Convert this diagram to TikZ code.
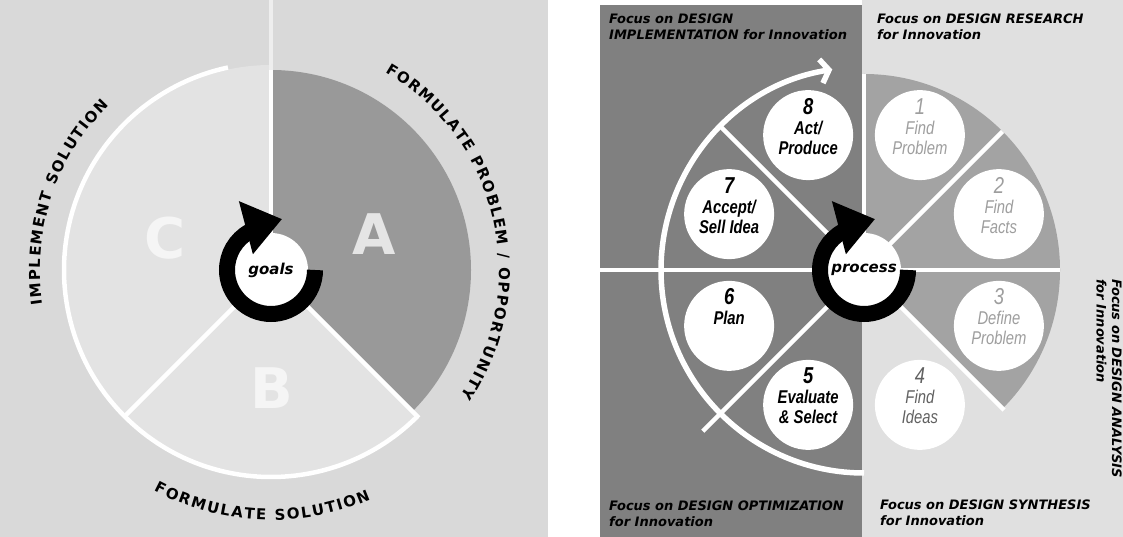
\documentclass[tikz,border=0pt]{standalone}
\usepackage{fontspec}
\setmainfont{DejaVu Sans}
\newfontfamily\circfont[FakeStretch=0.8]{Liberation Sans}
\usetikzlibrary{arrows.meta,decorations.text,calc}
\definecolor{bgleft}{gray}{0.85}
\definecolor{bginner}{gray}{0.89}
\definecolor{secA}{gray}{0.60}
\definecolor{paneldark}{gray}{0.50}
\definecolor{bgright}{gray}{0.88}
\definecolor{secR}{gray}{0.64}
\newcommand\curvefont{\fontsize{15}{15}\selectfont\bfseries}
\tikzset{
  divider/.style={white, line width=4.5pt},
  whitearc/.style={white, line width=5.5pt, -{Straight Barb[length=8pt,width=24pt]}},
  blackring/.style={black, line width=16pt},
  stepcirc/.style={circle, fill=white, minimum size=90pt, inner sep=0pt},
  numdark/.style={anchor=base, inner sep=0pt, font=\circfont\fontsize{23}{23}\selectfont\bfseries\itshape},
  labdark/.style={anchor=base, inner sep=0pt, font=\circfont\fontsize{18.5}{18.5}\selectfont\bfseries\itshape},
  numlight/.style={anchor=base, inner sep=0pt, text=black!38, font=\circfont\fontsize{23}{23}\selectfont\itshape},
  lablight/.style={anchor=base, inner sep=0pt, text=black!38, font=\circfont\fontsize{18.5}{18.5}\selectfont\itshape},
  centertxt/.style={inner sep=0pt, font=\fontsize{15}{15}\selectfont\bfseries\itshape},
  bigletter/.style={inner sep=0pt, font=\fontsize{56}{56}\selectfont\bfseries},
  focustxt/.style={inner sep=0pt, align=left, font=\fontsize{13}{15.5}\selectfont\bfseries\itshape},
  curvedtext/.style={decorate, decoration={text along path, text align={fit to path}}}
}
\begin{document}
\begin{tikzpicture}[x=1pt,y=1pt]
\useasboundingbox (0,0) rectangle (1123,537);
\fill[white] (0,0) rectangle (1123,537);
\coordinate (L) at (271,267);
\coordinate (R) at (864,267);
\coordinate (Lrim) at (271,467);
\coordinate (Ltop) at (271,537);
\coordinate (Pleft) at (600,267);

% ---------------- left panel ----------------
\fill[bgleft] (0,0) rectangle (548,537);
\fill[bginner] (L) -- ++(-45:205) arc[start angle=-45, end angle=-270, radius=205] -- cycle;
\fill[secA] (L) -- ++(90:200) arc[start angle=90, end angle=-45, radius=200] -- cycle;
\draw[divider] (L) -- (Lrim);
\draw[white!55!bgleft, line width=4.5pt] (Lrim) -- (Ltop);
\draw[divider] (L) -- ++(-45:209);
\draw[divider] (L) -- ++(-135:206);
\draw[white, line width=4.5pt] (L) ++(-45:207) arc[start angle=-45, end angle=-258, radius=207];

\node[bigletter, text=black!10] (lA) at (374,303) {A};
\node[bigletter, text=black!4] (lB) at (272,149) {B};
\node[bigletter, text=black!4] (lC) at (165,299) {C};

\fill[white] (L) circle[radius=37];
\draw[blackring] (L) ++(0:44) arc[start angle=0, end angle=-241, radius=44];
\fill[black, shift={(L)}] (115:76) -- (78:52) -- (139:24) -- cycle;
\node[centertxt] (goals) at (L) {goals};

\path[curvedtext, decoration={text={|\curvefont|FORMULATE PROBLEM / OPPORTUNITY}}]
  (L) ++(60:228) arc[start angle=60, end angle=-33.5, radius=228];
\path[curvedtext, decoration={text={|\curvefont|IMPLEMENT SOLUTION}}]
  (L) ++(188.5:231) arc[start angle=188.5, end angle=134.5, radius=231];
\path[curvedtext, decoration={text={|\curvefont|FORMULATE SOLUTION}}]
  (L) ++(-118:250) arc[start angle=-118, end angle=-66.5, radius=250];

% ---------------- right panel ----------------
\fill[paneldark] (600,0) rectangle (862,532);
\fill[bgright] (862,0) rectangle (1123,537);
\fill[secR] (R) -- ++(90:196) arc[start angle=90, end angle=-45, radius=196] -- cycle;
\draw[divider] (R) -- ++(90:196);
\draw[divider] (R) -- ++(45:196);
\draw[divider] (R) -- ++(-45:198);
\draw[divider] (Pleft) -- ($(R)+(196,0)$);
\draw[divider] (R) -- ++(135:203);
\draw[divider] (R) -- ++(-135:228);
\draw[whitearc] (R) ++(-90:203) arc[start angle=-90, end angle=-261, radius=203];

\node[stepcirc] (c1) at ($(R)+(67.5:146)$) {};
\node[stepcirc] (c2) at ($(R)+(22.5:146)$) {};
\node[stepcirc] (c3) at ($(R)+(-22.5:146)$) {};
\node[stepcirc] (c4) at ($(R)+(-67.5:146)$) {};
\node[stepcirc] (c5) at ($(R)+(-112.5:146)$) {};
\node[stepcirc] (c6) at ($(R)+(-157.5:146)$) {};
\node[stepcirc] (c7) at ($(R)+(157.5:146)$) {};
\node[stepcirc] (c8) at ($(R)+(112.5:146)$) {};

\node[numlight] (n1) at ($(c1)+(0,21)$) {1};
\node[lablight] (a1) at ($(c1)+(0,1)$) {Find};
\node[lablight] (b1) at ($(c1)+(0,-19)$) {Problem};
\node[numlight] (n2) at ($(c2)+(0,21)$) {2};
\node[lablight] (a2) at ($(c2)+(0,1)$) {Find};
\node[lablight] (b2) at ($(c2)+(0,-19)$) {Facts};
\node[numlight] (n3) at ($(c3)+(0,21)$) {3};
\node[lablight] (a3) at ($(c3)+(0,1)$) {Define};
\node[lablight] (b3) at ($(c3)+(0,-19)$) {Problem};
\node[numlight, text=black!62] (n4) at ($(c4)+(0,21)$) {4};
\node[lablight, text=black!62] (a4) at ($(c4)+(0,1)$) {Find};
\node[lablight, text=black!62] (b4) at ($(c4)+(0,-19)$) {Ideas};
\node[numdark] (n5) at ($(c5)+(0,21)$) {5};
\node[labdark] (a5) at ($(c5)+(0,1)$) {Evaluate};
\node[labdark] (b5) at ($(c5)+(0,-19)$) {\& Select};
\node[numdark] (n6) at ($(c6)+(0,21)$) {6};
\node[labdark] (a6) at ($(c6)+(0,1)$) {Plan};
\node[numdark] (n7) at ($(c7)+(0,21)$) {7};
\node[labdark] (a7) at ($(c7)+(0,1)$) {Accept/};
\node[labdark] (b7) at ($(c7)+(0,-19)$) {Sell Idea};
\node[numdark] (n8) at ($(c8)+(0,21)$) {8};
\node[labdark] (a8) at ($(c8)+(0,1)$) {Act/};
\node[labdark] (b8) at ($(c8)+(0,-19)$) {Produce};

\fill[white] (R) circle[radius=37];
\draw[blackring] (R) ++(0:44) arc[start angle=0, end angle=-241, radius=44];
\fill[black, shift={(R)}] (115:76) -- (78:52) -- (139:24) -- cycle;
\node[centertxt] (process) at (R) {process};

\node[focustxt, anchor=north west] (fimp) at (609,523) {Focus on DESIGN\\IMPLEMENTATION for Innovation};
\node[focustxt, anchor=north west] (fres) at (877,523) {Focus on DESIGN RESEARCH\\for Innovation};
\node[focustxt, anchor=north west] (fopt) at (609,36) {Focus on DESIGN OPTIMIZATION\\for Innovation};
\node[focustxt, anchor=north west] (fsyn) at (880,37) {Focus on DESIGN SYNTHESIS\\for Innovation};
\node[focustxt, anchor=north west, rotate=-90] (fana) at (1122,258) {Focus on DESIGN ANALYSIS\\for Innovation};
\end{tikzpicture}
\end{document}
